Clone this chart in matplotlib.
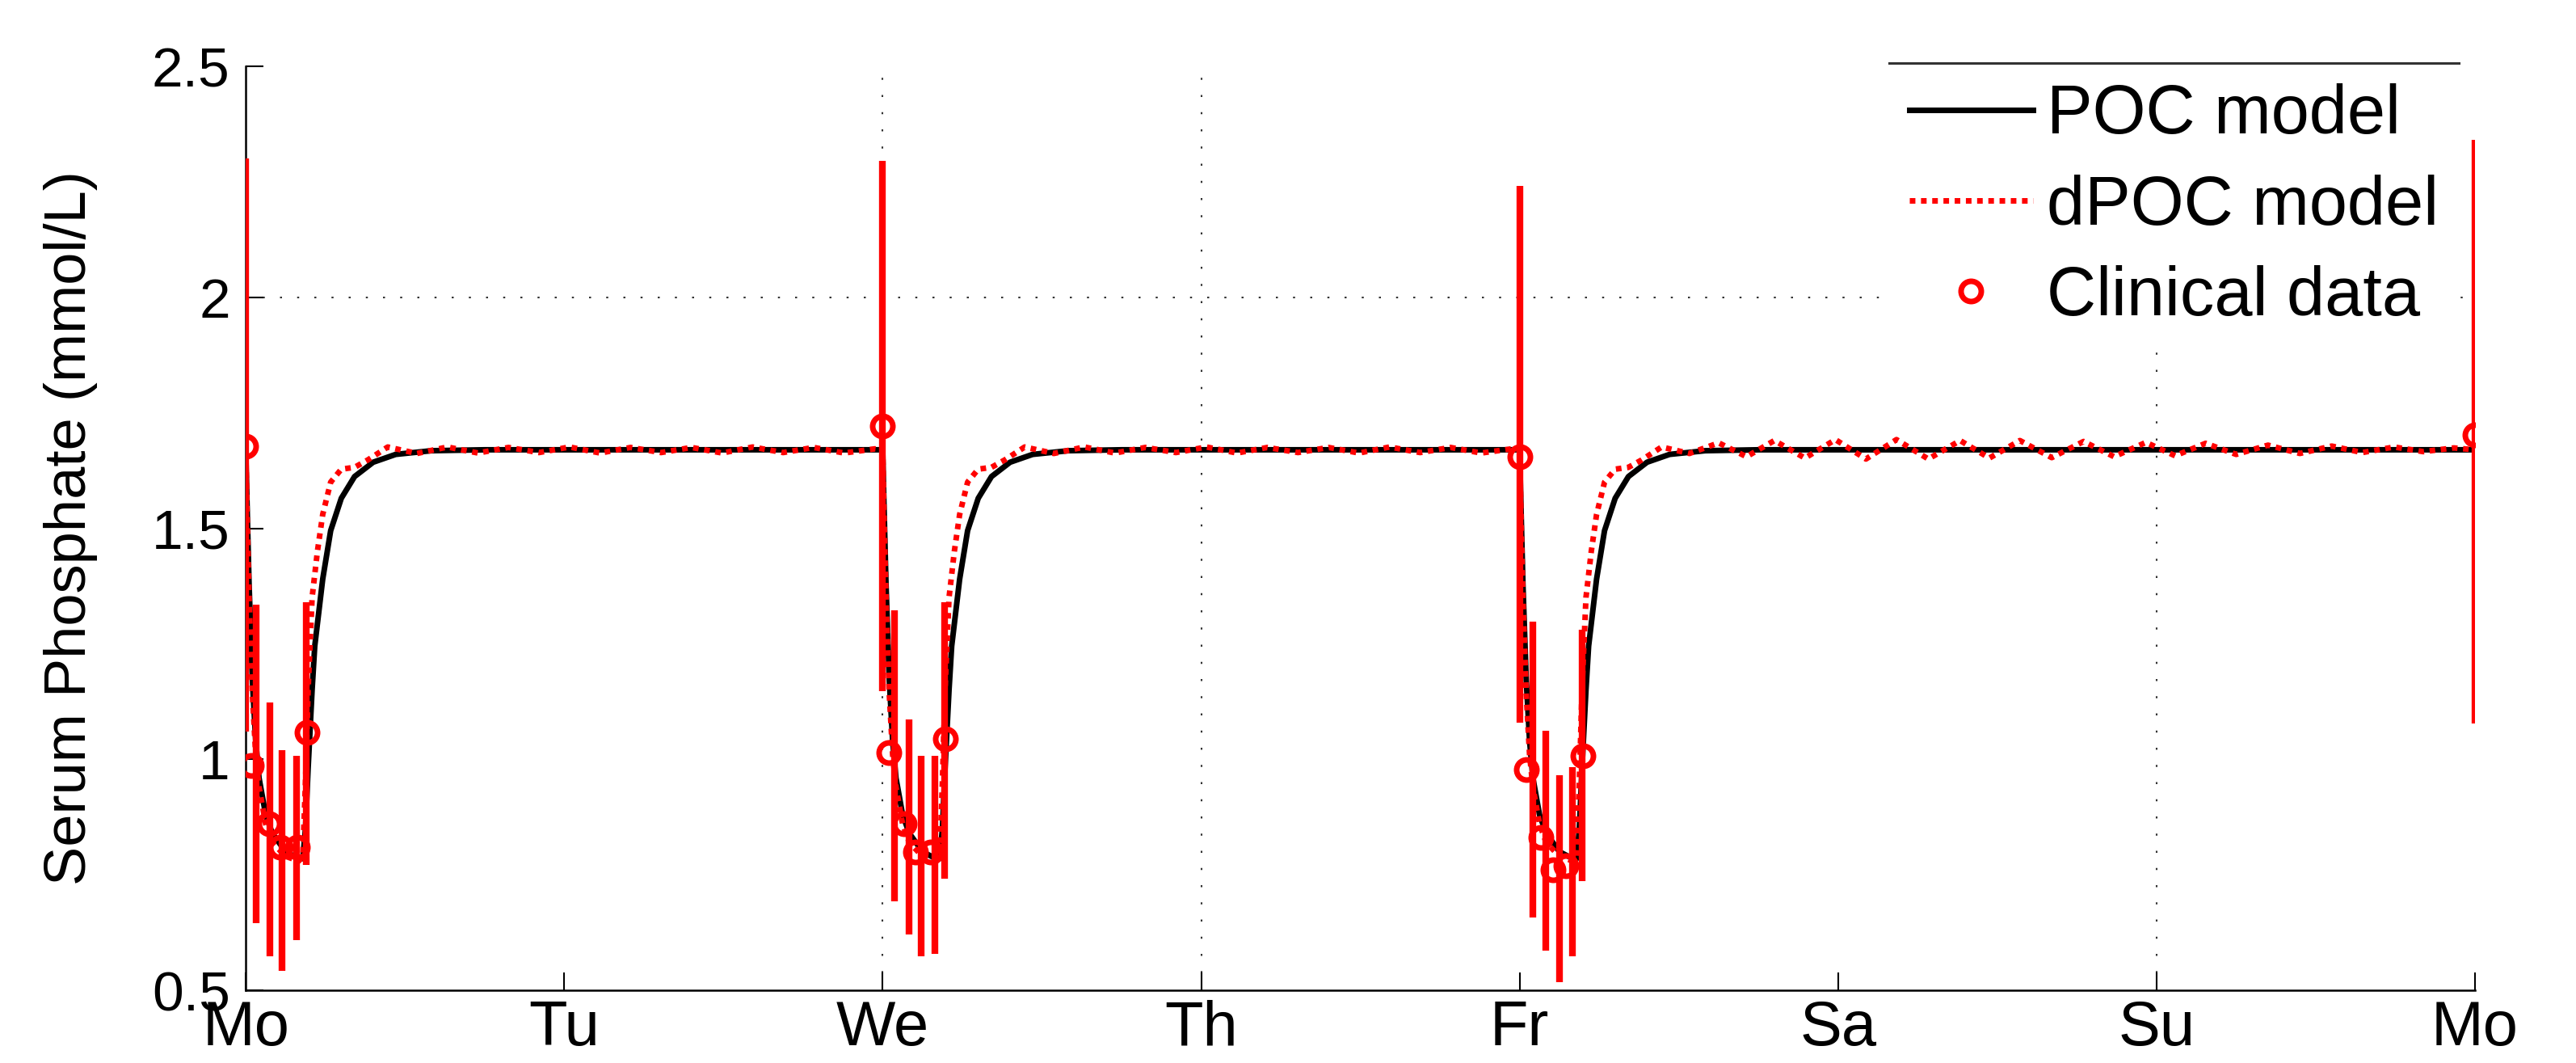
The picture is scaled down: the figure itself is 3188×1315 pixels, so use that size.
import matplotlib
matplotlib.use('Agg')
import matplotlib.pyplot as plt
from matplotlib.lines import Line2D
import numpy as np

plt.rcParams['font.family'] = ['Liberation Sans', 'DejaVu Sans']

day_labels = ['Mo', 'Tu', 'We', 'Th', 'Fr', 'Sa', 'Su', 'Mo']
y_ticks = [0.5, 1, 1.5, 2, 2.5]
y_labels = ['0.5', '1', '1.5', '2', '2.5']

# dialysis sessions start (hours from Monday)
session_start_h = [0, 48, 96]
week_end_h = 168

# POC model around one session (hours after session start)
poc_h = [0, 0.1, 0.25, 0.5, 0.75, 1.0, 1.5, 2.0, 3.0, 4.0, 4.3, 4.5, 4.7, 5.0,
         5.2, 5.8, 6.4, 7.2, 8.2, 9.6, 11.3, 14.0, 18.0]
poc_val = [1.670, 1.55, 1.38, 1.17, 1.04, 0.96, 0.88, 0.84, 0.80, 0.785, 0.785,
           0.85, 0.98, 1.15, 1.245, 1.39, 1.495, 1.565, 1.612, 1.643, 1.660,
           1.668, 1.670]

# dPOC model around one session
dpoc_h = [0, 0.1, 0.25, 0.5, 0.75, 1.0, 1.5, 2.0, 3.0, 4.0, 4.3, 4.5, 4.7, 5.0,
          5.4, 5.8, 6.4, 7.2, 8.2, 9.2, 10.7]
dpoc_val = [1.670, 1.53, 1.35, 1.14, 1.01, 0.94, 0.86, 0.82, 0.79, 0.78, 0.79,
            0.95, 1.15, 1.35, 1.45, 1.53, 1.60, 1.628, 1.632, 1.648, 1.676]

# dPOC oscillation after midweek sessions
dpoc_rip_h = [12.9, 15.2, 17.5, 19.8, 22.1, 24.4, 26.7, 29.0, 31.3, 33.6,
              35.9, 38.2, 40.5, 42.8, 45.1, 47.4]
dpoc_rip_val = [1.662, 1.676, 1.663, 1.675, 1.664, 1.676, 1.663, 1.675, 1.664,
                1.675, 1.663, 1.676, 1.664, 1.675, 1.663, 1.672]

# dPOC oscillation over the weekend (hours after Friday session start)
dpoc_wkd_h = [12.8, 15.0, 17.1, 19.2, 21.5, 23.8, 26.1, 28.4, 30.8, 33.2, 35.4,
              37.7, 40.1, 42.5, 44.8, 47.2, 49.4, 51.7, 54.0, 56.4, 58.8, 61.2,
              63.5, 65.9, 68.1, 70.4, 72.0]
dpoc_wkd_val = [1.662, 1.685, 1.655, 1.690, 1.652, 1.692, 1.650, 1.692, 1.650,
                1.690, 1.652, 1.690, 1.653, 1.688, 1.655, 1.686, 1.657, 1.684,
                1.660, 1.680, 1.662, 1.678, 1.664, 1.676, 1.666, 1.674, 1.670]

# clinical data (markers)
clin_h = [0, 0.44, 1.73, 2.6, 3.9, 4.6,
          48, 48.45, 49.6, 50.5, 51.6, 52.7,
          96, 96.5, 97.6, 98.5, 99.5, 100.8,
          168]
clin_val = [1.678, 0.987, 0.86, 0.81, 0.81, 1.058,
            1.721, 1.014, 0.86, 0.80, 0.80, 1.044,
            1.655, 0.978, 0.83, 0.76, 0.77, 1.008,
            1.702]

# clinical data (error bars)
bar_h = [0, 0.81, 1.83, 2.74, 3.8, 4.53,
         48, 48.88, 49.96, 50.9, 51.93, 52.64,
         96, 97.0, 98.0, 98.98, 99.96, 100.7,
         168]
bar_lo = [1.06, 0.645, 0.573, 0.542, 0.609, 0.772,
          1.147, 0.693, 0.621, 0.573, 0.579, 0.742,
          1.080, 0.657, 0.585, 0.518, 0.573, 0.736,
          1.077]
bar_hi = [2.30, 1.334, 1.123, 1.02, 1.008, 1.34,
          2.295, 1.322, 1.086, 1.008, 1.008, 1.340,
          2.241, 1.298, 1.062, 0.965, 0.983, 1.280,
          2.340]

# build the week-long model curves
poc_t, poc_y = [], []
for s in session_start_h:
    poc_t += [s + h for h in poc_h]
    poc_y += poc_val
poc_t.append(week_end_h)
poc_y.append(poc_val[-1])

dpoc_t, dpoc_y = [], []
for i, s in enumerate(session_start_h):
    dpoc_t += [s + h for h in dpoc_h]
    dpoc_y += dpoc_val
    if i < 2:
        dpoc_t += [s + h for h in dpoc_rip_h]
        dpoc_y += dpoc_rip_val
    else:
        dpoc_t += [s + h for h in dpoc_wkd_h]
        dpoc_y += dpoc_wkd_val

poc_t = np.array(poc_t) / 24.0
dpoc_t = np.array(dpoc_t) / 24.0
clin_t = np.array(clin_h) / 24.0
bar_t = np.array(bar_h) / 24.0

fig = plt.figure(figsize=(31.88, 13.15), dpi=100)
ax = fig.add_axes([0.0954, 0.0684, 0.8654, 0.8692])

# grid lines that show in the figure
for d in [2, 3, 6]:
    ax.axvline(d, color='#333333', lw=1.5, ls=(0, (1.2, 9)), zorder=0)
ax.axhline(2, color='#333333', lw=1.5, ls=(0, (1.2, 9)), zorder=0)

l1, = ax.plot(poc_t, poc_y, color='black', lw=5, label='POC model', zorder=2)
l2, = ax.plot(dpoc_t, dpoc_y, color='red', lw=5, ls=(0, (1, 1)),
              label='dPOC model', zorder=3)
ax.vlines(bar_t, bar_lo, bar_hi, color='red', lw=6, zorder=4)
l3, = ax.plot(clin_t, clin_val, ls='none', marker='o', ms=18, mfc='none',
              mec='red', mew=5, label='Clinical data', zorder=5)

ax.set_xlim(0, 7)
ax.set_ylim(0.5, 2.5)
ax.set_xticks(range(8))
ax.set_xticklabels(day_labels)
ax.set_yticks(y_ticks)
ax.set_yticklabels(y_labels)
ax.tick_params(axis='x', direction='in', length=16, width=1.5, labelsize=56, pad=8)
ax.tick_params(axis='y', direction='in', length=16, width=1.5, labelsize=50, pad=14)
for side in ['top', 'right']:
    ax.spines[side].set_visible(False)
for side in ['left', 'bottom']:
    ax.spines[side].set_linewidth(1.8)
ax.set_ylabel('Serum Phosphate (mmol/L)', fontsize=52, labelpad=48)

leg = ax.legend(handles=[l1, l2, l3], loc='upper right',
                bbox_to_anchor=(3043 / 3188, 1 - 78 / 1315),
                bbox_transform=fig.transFigure, fontsize=61, frameon=True,
                fancybox=False, edgecolor='none', facecolor='white',
                framealpha=1, borderpad=0.3, borderaxespad=0, handlelength=1.8,
                handletextpad=0.2, labelspacing=0.38)
leg.set_zorder(10)

fig.canvas.draw()
bb = leg.get_window_extent()
W, H = fig.bbox.width, fig.bbox.height
fig.add_artist(Line2D([bb.x0 / W, bb.x1 / W], [bb.y1 / H, bb.y1 / H],
                      transform=fig.transFigure, color='#333333', lw=2.2))

fig.savefig('out.png', dpi=100)
